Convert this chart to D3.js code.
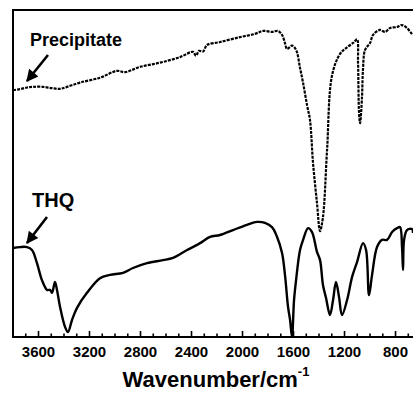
<!DOCTYPE html>
<html>
<head>
<meta charset="utf-8">
<script src="https://cdn.jsdelivr.net/npm/d3@7"></script>
<style>
  html, body { margin: 0; padding: 0; background: #fff; }
  svg { display: block; }
  text { font-family: "Liberation Sans", Arial, sans-serif; font-weight: bold; fill: #000; }
</style>
</head>
<body>
<svg id="chart" width="413" height="393"></svg>
<script>
// ---- data (wavenumber in cm^-1, transmittance in arbitrary %) ----
const precipWavenumber = [3800,3745,3690,3643,3565,3494,3431,3376,3275,3118,2984,2922,2804,2647,2490,2388,2365,2341,2310,2278,2176,2020,1902,1839,1769,1722,1690,1667,1651,1612,1580,1549,1525,1494,1471,1447,1416,1392,1369,1337,1298,1235,1180,1130,1102,1094,1086,1078,1063,1055,1039,1000,976,922,882,843,788,749,710,678,663];
const precipValue      = [75.5,75.8,76.3,76.5,76.5,76.1,75.9,76.5,77.8,79.3,81.4,81.0,82.6,83.9,85.6,87.2,86.0,87.5,87.3,89.3,90.2,91.7,92.7,93.6,93.3,93.6,92.4,89.9,88.1,89.1,87.8,82.3,77.7,70.9,66.4,53.2,41.0,32.4,36.7,57.2,80.0,86.6,88.6,90.0,91.0,83.8,68.5,65.4,73.4,82.0,87.8,89.9,92.4,93.9,93.3,94.5,94.8,95.4,94.5,93.0,92.4];

const thqWavenumber = [3800,3745,3690,3651,3612,3573,3533,3510,3494,3471,3455,3431,3392,3369,3337,3298,3220,3118,3039,2937,2859,2749,2624,2545,2435,2333,2255,2176,2075,1965,1886,1824,1769,1729,1690,1667,1643,1627,1612,1596,1580,1549,1525,1486,1455,1416,1392,1369,1345,1314,1290,1267,1243,1220,1180,1141,1102,1055,1031,1008,984,945,906,867,827,788,765,749,741,733,710,671,663];
const thqValue      = [27.2,27.5,27.5,26.6,22.6,17.4,14.4,14.4,13.5,16.8,14.4,9.2,3.1,1.5,5.2,8.9,13.5,18.0,19.0,19.6,21.1,22.6,23.5,24.2,26.6,28.7,30.6,31.2,32.7,34.3,35.2,34.9,33.6,30.6,25.7,19.0,9.2,5.2,0.0,11.3,17.4,26.6,29.7,33.3,32.1,26.0,23.5,15.9,11.9,6.7,11.3,16.8,12.2,6.7,11.3,18.3,22.9,28.7,26.6,12.8,19.0,27.5,29.7,29.7,32.1,33.3,33.6,27.5,20.5,29.7,32.7,33.0,31.8];

const majorTicks = [3600,3200,2800,2400,2000,1600,1200,800];
const minorTicks = [3700,3500,3400,3300,3100,3000,2900,2700,2600,2500,2300,2200,2100,1900,1800,1700,1500,1400,1300,1100,1000,900,700];
const xDomain = [3800, 663];
const seriesLabels = ["Precipitate", "THQ"];
const axisTitle = "Wavenumber/cm";

// ---- layout ----
const svg = d3.select("#chart");
const mLeft = 13, mRight = 413, mTop = 10, mBottom = 337;

const x = d3.scaleLinear().domain(xDomain).range([mLeft, mRight]);
const y = d3.scaleLinear().domain([0, 100]).range([mBottom, mTop]);

const defs = svg.append("defs");
defs.append("marker")
  .attr("id", "arrow")
  .attr("viewBox", "0 0 10 10")
  .attr("refX", 9).attr("refY", 5)
  .attr("markerWidth", 5.2).attr("markerHeight", 4.6)
  .attr("markerUnits", "strokeWidth")
  .attr("orient", "auto")
  .append("path").attr("d", "M0,0 L10,5 L0,10 z").attr("fill", "#000");

// frame
svg.append("line").attr("x1", mLeft).attr("x2", mLeft).attr("y1", mTop - 1).attr("y2", mBottom + 1)
  .attr("stroke", "#000").attr("stroke-width", 2);
svg.append("line").attr("x1", mLeft - 1).attr("x2", mRight).attr("y1", mTop).attr("y2", mTop)
  .attr("stroke", "#000").attr("stroke-width", 2);

// bottom axis with inward ticks
const axisG = svg.append("g").attr("transform", `translate(0,${mBottom})`);
axisG.append("line").attr("x1", mLeft - 1).attr("x2", mRight).attr("y1", 0).attr("y2", 0)
  .attr("stroke", "#000").attr("stroke-width", 2);
axisG.selectAll("line.minor").data(minorTicks).enter().append("line")
  .attr("class", "minor")
  .attr("x1", d => x(d)).attr("x2", d => x(d)).attr("y1", 0).attr("y2", -3.5)
  .attr("stroke", "#000").attr("stroke-width", 1.6);
axisG.selectAll("line.major").data(majorTicks).enter().append("line")
  .attr("class", "major")
  .attr("x1", d => x(d)).attr("x2", d => x(d)).attr("y1", 0).attr("y2", -6)
  .attr("stroke", "#000").attr("stroke-width", 1.6);
axisG.selectAll("text.tl").data(majorTicks).enter().append("text")
  .attr("class", "tl")
  .attr("x", d => x(d)).attr("y", 20)
  .attr("text-anchor", "middle")
  .style("font-size", "15px")
  .text(d => d);

// axis title with superscript
const title = svg.append("text").attr("x", 216).attr("y", 387)
  .attr("text-anchor", "middle").style("font-size", "22px");
title.append("tspan").text(axisTitle);
title.append("tspan").attr("dy", -11).style("font-size", "13px").text("-1");

// curves
const line = d3.line().x(d => x(d[0])).y(d => y(d[1])).curve(d3.curveCatmullRom.alpha(0.5));
const precip = precipWavenumber.map((w, i) => [w, precipValue[i]]);
const thq = thqWavenumber.map((w, i) => [w, thqValue[i]]);

svg.append("path").datum(precip).attr("d", line)
  .attr("fill", "none").attr("stroke", "#000").attr("stroke-width", 2.2)
  .attr("stroke-dasharray", "3,1.1");
svg.append("path").datum(thq).attr("d", line)
  .attr("fill", "none").attr("stroke", "#000").attr("stroke-width", 2.4)
  .attr("stroke-linejoin", "round");

// annotations
svg.append("text").attr("x", 30).attr("y", 46).style("font-size", "18px").text(seriesLabels[0]);
svg.append("line").attr("x1", 48).attr("y1", 55).attr("x2", 27).attr("y2", 81)
  .attr("stroke", "#000").attr("stroke-width", 2.6).attr("marker-end", "url(#arrow)");

svg.append("text").attr("x", 32).attr("y", 207).style("font-size", "20px").text(seriesLabels[1]);
svg.append("line").attr("x1", 47).attr("y1", 217).attr("x2", 27).attr("y2", 243)
  .attr("stroke", "#000").attr("stroke-width", 2.6).attr("marker-end", "url(#arrow)");
</script>
</body>
</html>
